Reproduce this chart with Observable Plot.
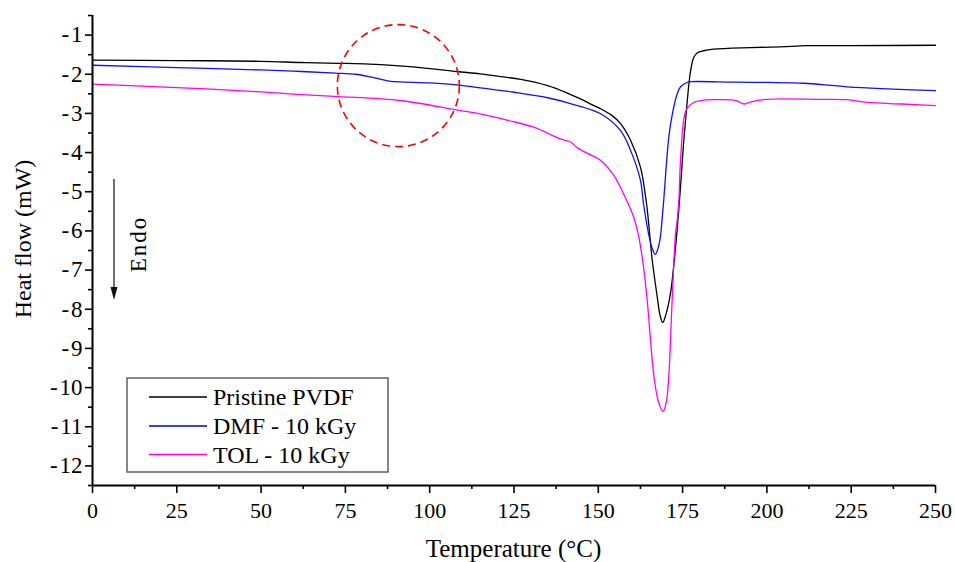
<!DOCTYPE html>
<html>
<head>
<meta charset="utf-8">
<script src="https://cdn.jsdelivr.net/npm/d3@7"></script>
<script src="https://cdn.jsdelivr.net/npm/@observablehq/plot@0.6"></script>
<style>
  body { margin: 0; background: #fff; }
  svg { font-family: "Liberation Serif", "Times New Roman", serif; }
</style>
</head>
<body>
<div id="chart"></div>
<script>
// ---- Data ----
const seriesNames  = ["Pristine PVDF", "DMF - 10 kGy", "TOL - 10 kGy"];
const seriesColors = ["#000000", "#1010ff", "#ff00ff"];
const legendColors = ["#000000", "#0000c8", "#ff00ff"];

const pristineT  = [0, 25, 50, 62, 73, 82, 95, 108, 115, 121, 127, 135, 140.8, 144.7, 148.7, 150.7, 154, 156.6, 159.6, 162.5, 164.3, 166, 167.5, 168.3, 169.1, 170, 171.4, 172.3, 173.4, 174.4, 175.3, 176.3, 177.3, 178.3, 179.4, 181.2, 184.2, 195, 204, 212, 225, 250];
const pristineHF = [-1.64, -1.65, -1.67, -1.70, -1.72, -1.74, -1.81, -1.93, -1.99, -2.06, -2.13, -2.29, -2.48, -2.63, -2.80, -2.88, -3.05, -3.26, -3.69, -4.37, -5.30, -6.75, -7.70, -8.15, -8.34, -8.15, -7.60, -6.95, -5.95, -4.85, -3.75, -2.76, -1.95, -1.57, -1.45, -1.40, -1.36, -1.32, -1.30, -1.27, -1.27, -1.26];

const dmfT  = [0, 25, 50, 62, 72, 78, 82, 85, 88.4, 100, 108, 115, 125, 135, 143, 150.7, 156.6, 159.6, 162.5, 163.4, 164.9, 166, 166.9, 167.7, 168.4, 168.9, 169.4, 170.9, 172, 173.4, 174.4, 176.3, 177.4, 190, 200, 210.9, 223.8, 250];
const dmfHF = [-1.77, -1.83, -1.89, -1.93, -1.97, -2.00, -2.06, -2.12, -2.18, -2.22, -2.27, -2.35, -2.46, -2.60, -2.78, -3.01, -3.44, -3.95, -4.71, -5.30, -6.07, -6.45, -6.60, -6.45, -6.16, -5.73, -5.22, -3.61, -3.00, -2.50, -2.32, -2.21, -2.19, -2.20, -2.21, -2.23, -2.32, -2.42];

const tolT  = [0, 25, 50, 62, 73, 91.3, 108, 115, 122.9, 130.8, 138.8, 141.8, 143.8, 146.8, 150.7, 154.6, 158.5, 160.5, 162, 163.3, 164.5, 166.5, 167.8, 169.2, 170.2, 170.9, 171.9, 172.9, 173.4, 173.9, 174.5, 176, 178.3, 181.3, 186, 190.2, 191.5, 193.2, 195, 199.1, 204, 215, 223.8, 229.7, 240, 250];
const tolHF = [-2.25, -2.34, -2.45, -2.52, -2.57, -2.67, -2.91, -3.01, -3.17, -3.35, -3.65, -3.73, -3.88, -4.02, -4.20, -4.58, -5.24, -5.65, -6.15, -6.85, -7.77, -9.72, -10.35, -10.61, -10.35, -9.72, -7.77, -6.07, -5.73, -5.22, -4.03, -2.93, -2.72, -2.66, -2.65, -2.66, -2.69, -2.76, -2.71, -2.65, -2.63, -2.64, -2.65, -2.72, -2.76, -2.80];

const xMajorTicks = [0, 25, 50, 75, 100, 125, 150, 175, 200, 225, 250];
const xMinorTicks = [12.5, 37.5, 62.5, 87.5, 112.5, 137.5, 162.5, 187.5, 212.5, 237.5];
const yMajorTicks = [-1, -2, -3, -4, -5, -6, -7, -8, -9, -10, -11, -12];
const yMinorTicks = [-0.5, -1.5, -2.5, -3.5, -4.5, -5.5, -6.5, -7.5, -8.5, -9.5, -10.5, -11.5, -12.5];

// highlighted region (dashed circle)
const highlightT  = [90.7];
const highlightHF = [-2.29];

const xLabel = "Temperature (°C)";
const yLabel = "Heat flow (mW)";
const endoLabel = "Endo";

// ---- Build table ----
const rows = [];
[[pristineT, pristineHF], [dmfT, dmfHF], [tolT, tolHF]].forEach(([T, H], i) => {
  T.forEach((t, j) => rows.push({ s: seriesNames[i], t, hf: H[j] }));
});
const highlight = highlightT.map((t, i) => ({ t, hf: highlightHF[i] }));

const W = 955, H = 562;
const mL = 92, mR = 20, mT = 15, mB = 77;
const fmtY = d => (d < 0 ? "-\u200A" + Math.abs(d) : String(d));

const svg = Plot.plot({
  width: W, height: H,
  marginLeft: mL, marginRight: mR, marginTop: mT, marginBottom: mB,
  x: { domain: [0, 250] },
  y: { domain: [-12.5, -0.5] },
  color: { domain: seriesNames, range: seriesColors },
  style: { fontFamily: '"Liberation Serif","Times New Roman",serif', fontSize: "22px", background: "white", color: "black" },
  marks: [
    Plot.line(rows, { x: "t", y: "hf", z: "s", stroke: "s", curve: "catmull-rom", strokeWidth: 1.3 }),
    Plot.dot(highlight, { x: "t", y: "hf", r: 61, stroke: "#ff0000", fill: "none", strokeWidth: 1.6, strokeDasharray: "8,5" }),
    Plot.axisX({ ticks: xMajorTicks, tickSize: 8, tickPadding: 9, label: null, tickFormat: d => String(d), strokeWidth: 1.6, fontSize: 22 }),
    Plot.axisX({ ticks: xMinorTicks, tickSize: 4, label: null, tickFormat: () => "", strokeWidth: 1.6 }),
    Plot.axisY({ ticks: yMajorTicks, tickSize: 7, tickPadding: 3, label: null, tickFormat: fmtY, strokeWidth: 1.6, fontSize: 23 }),
    Plot.axisY({ ticks: yMinorTicks, tickSize: 4, label: null, tickFormat: () => "", strokeWidth: 1.6 }),
    Plot.ruleX([0], { strokeWidth: 2 }),
    Plot.ruleY([-12.5], { strokeWidth: 2 })
  ]
});

const g = d3.select(svg).append("g")
  .attr("font-family", '"Liberation Serif","Times New Roman",serif')
  .attr("fill", "black");

// axis titles
g.append("text").attr("x", (mL + W - mR) / 2).attr("y", 557).attr("text-anchor", "middle")
  .attr("font-size", 25).text(xLabel);
g.append("text").attr("transform", "translate(31,239) rotate(-90)").attr("text-anchor", "middle")
  .attr("font-size", 24).text(yLabel);

// Endo arrow
g.append("line").attr("x1", 114).attr("x2", 114).attr("y1", 179).attr("y2", 290)
  .attr("stroke", "#111").attr("stroke-width", 1.2);
g.append("path").attr("d", "M110.5,287 L117.5,287 L114,300 Z").attr("fill", "#111");
g.append("text").attr("transform", "translate(146,244) rotate(-90)").attr("text-anchor", "middle")
  .attr("font-size", 23).attr("letter-spacing", 2).text(endoLabel);

// legend
const lg = g.append("g");
lg.append("rect").attr("x", 127).attr("y", 378).attr("width", 261).attr("height", 94)
  .attr("fill", "white").attr("stroke", "#555").attr("stroke-width", 1.4);
const rowY = [397, 426, 454.5];
seriesNames.forEach((name, i) => {
  lg.append("line").attr("x1", 149).attr("x2", 207).attr("y1", rowY[i]).attr("y2", rowY[i])
    .attr("stroke", legendColors[i]).attr("stroke-width", 1.3);
  lg.append("text").attr("x", 213).attr("y", rowY[i] + 8).attr("text-anchor", "start")
    .attr("font-size", 24).text(name);
});

document.getElementById("chart").appendChild(svg);
</script>
</body>
</html>
